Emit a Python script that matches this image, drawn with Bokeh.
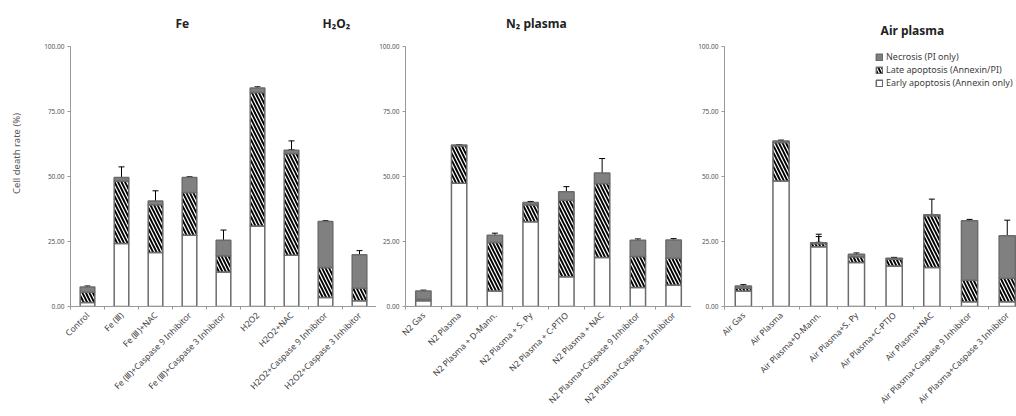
import math
from bokeh.plotting import figure
from bokeh.models import (ColumnDataSource, FixedTicker, Whisker, TeeHead, Label,
                          Legend, LegendItem, Range1d, NumeralTickFormatter)
from bokeh.layouts import row
from bokeh.embed import file_html
from bokeh.resources import INLINE

# ---------------- data ----------------
fe_cats = ["Control", "Fe (Ⅲ)", "Fe (Ⅲ)+NAC", "Fe (Ⅲ)+Caspase 9 Inhibitor",
           "Fe (Ⅲ)+Caspase 3 Inhibitor", "H2O2", "H2O2+NAC",
           "H2O2+Caspase 9 Inhibitor", "H2O2+Caspase 3 Inhibitor"]
fe_early = [1.5, 24.2, 20.8, 27.4, 13.3, 31.0, 19.7, 3.5, 2.2]
fe_late = [4.0, 24.1, 18.3, 16.4, 6.2, 51.3, 39.1, 11.5, 4.8]
fe_necro = [2.0, 1.3, 1.5, 5.8, 6.0, 1.7, 1.3, 17.7, 12.9]
fe_early_err = [0.4, 5.7, 6.2, 4.4, 0.5, 0.7, 2.4, 1.6, 0.5]
fe_late_err = [0.5, 1.0, 1.0, 3.0, 3.0, 1.0, 1.5, 1.5, 1.0]
fe_necro_err = [0.4, 4.1, 3.9, 0.3, 3.9, 0.5, 3.6, 0.3, 1.6]

n2_cats = ["N2 Gas", "N2 Plasma", "N2 Plasma + D-Mann.", "N2 Plasma + S. Py",
           "N2 Plasma + C-PTIO", "N2 Plasma + NAC",
           "N2 Plasma+Caspase 9 Inhibitor", "N2 Plasma+Caspase 3 Inhibitor"]
n2_early = [2.2, 47.4, 6.0, 32.6, 11.4, 18.8, 7.3, 8.3]
n2_late = [0.6, 14.4, 18.6, 6.5, 29.5, 28.5, 11.9, 10.3]
n2_necro = [3.2, 0.3, 2.8, 0.9, 3.2, 4.0, 6.3, 7.0]
n2_early_err = [0.3, 2.0, 1.3, 7.3, 2.2, 3.0, 1.7, 0.5]
n2_late_err = [0.3, 0.3, 1.0, 1.0, 1.0, 1.0, 3.0, 0.5]
n2_necro_err = [0.3, 0.2, 0.8, 0.4, 2.0, 5.6, 0.5, 0.5]

air_cats = ["Air Gas", "Air Plasma", "Air Plasma+D-Mann.", "Air Plasma+S. Py",
            "Air Plasma+C-PTIO", "Air Plasma+NAC",
            "Air Plasma+Caspase 9 Inhibitor", "Air Plasma+Caspase 3 Inhibitor"]
air_early = [6.0, 48.3, 23.0, 16.9, 15.6, 15.0, 1.8, 1.8]
air_late = [1.0, 14.8, 1.2, 2.2, 2.6, 19.9, 8.3, 9.1]
air_necro = [0.9, 0.6, 0.3, 1.0, 0.4, 0.4, 22.9, 16.3]
air_early_err = [0.7, 1.3, 3.9, 2.5, 1.9, 1.5, 1.0, 0.5]
air_late_err = [0.5, 0.5, 0.5, 0.7, 0.5, 0.5, 3.9, 0.4]
air_necro_err = [0.5, 0.3, 3.3, 0.5, 0.3, 6.0, 0.5, 6.0]

y_ticks = [0, 25, 50, 75, 100]
legend_labels = ["Necrosis (PI only)", "Late apoptosis (Annexin/PI)",
                 "Early apoptosis (Annexin only)"]

FONT = "Noto Sans"
OUTLINE = "#6b6b6b"
NECRO_COLOR = "#808080"
BAR_W = 0.43
FRAME_H = 306
Y_TOP = FRAME_H / 2.6   # 100 units = 260 px; extra room above for titles


def make_panel(cats, early, late, necro, e_err, l_err, n_err,
               frame_width, x_end, border_left, ylabel=None):
    n = len(cats)
    xs = list(range(n))
    p = figure(output_backend="svg", toolbar_location=None,
               frame_width=frame_width, frame_height=FRAME_H,
               x_range=Range1d(-0.5, x_end), y_range=Range1d(0, Y_TOP),
               min_border_left=border_left, min_border_right=0,
               min_border_top=0, min_border_bottom=106)
    p.outline_line_color = None
    p.grid.visible = False
    p.background_fill_color = "white"

    b1 = [0.0] * n
    t1 = [early[i] for i in range(n)]
    t2 = [t1[i] + late[i] for i in range(n)]
    t3 = [t2[i] + necro[i] for i in range(n)]
    src = ColumnDataSource(dict(x=xs, b1=b1, t1=t1, t2=t2, t3=t3))

    r_early = p.vbar(x="x", width=BAR_W, bottom="b1", top="t1", source=src,
                     fill_color="white", line_color=OUTLINE, line_width=1.5)
    r_late = p.vbar(x="x", width=BAR_W, bottom="t1", top="t2", source=src,
                    fill_color="white", hatch_pattern="\\", hatch_color="black",
                    hatch_scale=7, hatch_weight=1.9,
                    line_color=OUTLINE, line_width=1.5)
    r_necro = p.vbar(x="x", width=BAR_W, bottom="t2", top="t3", source=src,
                     fill_color=NECRO_COLOR, line_color=OUTLINE, line_width=1.5)

    for tops, errs in ((t1, e_err), (t2, l_err), (t3, n_err)):
        es = ColumnDataSource(dict(x=xs,
                                   up=[tops[i] + errs[i] for i in range(n)],
                                   lo=[tops[i] - errs[i] for i in range(n)]))
        w = Whisker(base="x", upper="up", lower="lo", source=es,
                    line_color="black", line_width=1,
                    upper_head=TeeHead(size=6, line_color="black", line_width=1),
                    lower_head=TeeHead(size=6, line_color="black", line_width=1))
        p.add_layout(w)

    # x axis
    xa = p.xaxis[0]
    xa.ticker = FixedTicker(ticks=xs, minor_ticks=[i - 0.5 for i in range(n + 1)])
    xa.major_label_overrides = {i: cats[i] for i in range(n)}
    xa.major_label_orientation = math.pi / 4
    xa.major_label_text_font = FONT
    xa.major_label_text_font_size = "8.5px"
    xa.major_label_text_color = "#404040"
    xa.major_label_standoff = 4
    xa.major_tick_out = 0
    xa.major_tick_in = 0
    xa.minor_tick_out = 3
    xa.minor_tick_in = 0
    xa.minor_tick_line_color = "#999999"
    xa.axis_line_color = "#999999"

    ya = p.yaxis[0]
    ya.ticker = FixedTicker(ticks=y_ticks)
    ya.bounds = (0, 100)
    ya.formatter = NumeralTickFormatter(format="0.00")
    ya.major_label_text_font = FONT
    ya.major_label_text_font_size = "6.5px"
    ya.major_label_text_color = "#555555"
    ya.major_label_standoff = 3
    ya.major_tick_out = 3
    ya.major_tick_in = 0
    ya.minor_tick_line_color = None
    ya.major_tick_line_color = "#999999"
    ya.axis_line_color = "#999999"
    if ylabel:
        ya.axis_label = ylabel
        ya.axis_label_text_font = FONT
        ya.axis_label_text_font_size = "9.5px"
        ya.axis_label_text_font_style = "normal"
        ya.axis_label_text_color = "#555555"
        ya.axis_label_standoff = 18
    return p, (r_early, r_late, r_necro)


def title(p, x, y, text, align="center"):
    p.add_layout(Label(x=x, y=y, text=text, text_font=FONT, text_font_size="12px",
                       text_font_style="bold", text_color="#222222",
                       text_align=align, text_baseline="middle"))


p1, _ = make_panel(fe_cats, fe_early, fe_late, fe_necro,
                   fe_early_err, fe_late_err, fe_necro_err,
                   306, 8.5, 70, "Cell death rate (%)")
title(p1, 2.79, 108.8, "Fe")
title(p1, 7.32, 108.8, "H₂O₂")

p2, _ = make_panel(n2_cats, n2_early, n2_late, n2_necro,
                   n2_early_err, n2_late_err, n2_necro_err,
                   286, 7.5, 26)
title(p2, 3.16, 108.8, "N₂ plasma")

p3, rs = make_panel(air_cats, air_early, air_late, air_necro,
                    air_early_err, air_late_err, air_necro_err,
                    294, 294 / 37.7 - 0.5, 33)
title(p3, 3.64, 106.2, "Air plasma", align="left")

legend = Legend(items=[LegendItem(label=legend_labels[0], renderers=[rs[2]]),
                       LegendItem(label=legend_labels[1], renderers=[rs[1]]),
                       LegendItem(label=legend_labels[2], renderers=[rs[0]])],
                location=(151, 217), padding=0, margin=0, spacing=0,
                label_height=9, glyph_height=8, glyph_width=8, label_standoff=3,
                label_text_font=FONT, label_text_font_size="9px",
                label_text_color="#404040",
                background_fill_alpha=0, border_line_color=None)
p3.add_layout(legend)

layout = row(p1, p2, p3)
open("out.html", "w").write(file_html(layout, INLINE))
